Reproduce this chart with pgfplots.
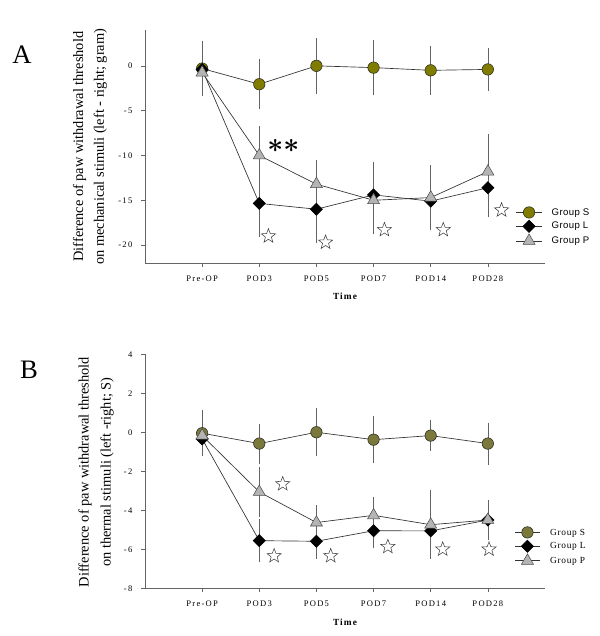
\documentclass[border=0pt]{standalone}
\usepackage{fontspec}
\setmainfont{Liberation Serif}
\newfontfamily\arial{Liberation Sans}
\usepackage{amsmath,bm}
\usepackage{pgfplots}
\usepackage{pgfplotstable}
\pgfplotsset{compat=1.18}

\definecolor{oliveA}{RGB}{128,124,0}
\definecolor{oliveB}{RGB}{122,120,58}
\definecolor{triG}{RGB}{180,180,180}
\definecolor{lineG}{RGB}{50,50,50}
\definecolor{axG}{RGB}{100,100,100}

\newcommand{\ticks}{\fontsize{6.4}{7}\selectfont\addfontfeature{LetterSpace=15}}

% open five-point star used for significance marks
\pgfdeclareplotmark{ostar}{%
  \pgfpathmoveto{\pgfpointpolar{90}{\pgfplotmarksize}}%
  \pgfpathlineto{\pgfpointpolar{126}{0.42\pgfplotmarksize}}%
  \pgfpathlineto{\pgfpointpolar{162}{\pgfplotmarksize}}%
  \pgfpathlineto{\pgfpointpolar{198}{0.42\pgfplotmarksize}}%
  \pgfpathlineto{\pgfpointpolar{234}{\pgfplotmarksize}}%
  \pgfpathlineto{\pgfpointpolar{270}{0.42\pgfplotmarksize}}%
  \pgfpathlineto{\pgfpointpolar{306}{\pgfplotmarksize}}%
  \pgfpathlineto{\pgfpointpolar{342}{0.42\pgfplotmarksize}}%
  \pgfpathlineto{\pgfpointpolar{18}{\pgfplotmarksize}}%
  \pgfpathlineto{\pgfpointpolar{54}{0.42\pgfplotmarksize}}%
  \pgfpathclose\pgfusepathqfillstroke}

% mechanical (gram)
\pgfplotstableread{
x  S     Se    L       Le    P      Pe
0  -0.3  2.7   -0.4    1.0   -0.75  1.5
1  -2.05 2.4   -15.35  3.35  -10.0  2.85
2  0.0   2.7   -16.0   3.4   -13.2  2.3
3  -0.2  2.7   -14.4   3.3   -15.0  3.35
4  -0.5  2.35  -15.1   1.8   -14.7  3.2
5  -0.4  2.0   -13.6   2.9   -11.8  3.8
}\mech

% thermal (s)
\pgfplotstableread{
x  S     Se    L      Le    P      Pe
0  -0.05 1.0   -0.34  0.7   -0.17  0.7
1  -0.58 0.85  -5.56  0.93  -3.06  1.1
2  0.0   1.05  -5.59  0.72  -4.63  0.72
3  -0.38 1.02  -5.05  0.73  -4.26  0.75
4  -0.17 0.62  -5.06  1.0   -4.74  1.58
5  -0.58 0.9   -4.5   0.84  -4.5   0.55
}\therm

\pgfplotsset{
  panel/.style={
    scale only axis, width=300pt,
    axis x line=bottom, axis y line=left,
    axis line style={draw=axG, line width=0.6pt, -},
    tick align=outside, major tick length=3pt,
    tick style={draw=axG, line width=0.5pt},
    xmin=-1, xmax=6, xtick={0,...,5},
    xticklabels={Pre-OP,POD3,POD5,POD7,POD14,POD28},
    xticklabel style={font=\ticks, yshift=-3pt},
    yticklabel style={font=\ticks, xshift=-3pt},
    clip=false, legend cell align=left,
    legend image code/.code={
      \draw[mark repeat=2,mark phase=2,##1] plot coordinates {(0pt,0pt) (9.5pt,0pt) (19pt,0pt)};},
  },
  grp/.style={color=lineG, line width=0.5pt,
    error bars/y dir=both, error bars/y explicit,
    error bars/error bar style={line width=0.5pt, draw=axG},
    error bars/error mark options={mark size=2.6pt, line width=0.5pt, draw=axG}},
  mS/.style={mark=*, mark size=4.3pt, mark options={fill=#1, draw=black!85, line width=0.4pt}},
  mL/.style={mark=square*, mark size=3.2pt, mark options={rotate=45, fill=black, draw=black}},
  mP/.style={mark=triangle*, mark size=5.2pt, mark options={fill=triG, draw=black!70, line width=0.4pt}},
  sig/.style={only marks, mark=ostar, mark size=5.6pt, mark options={fill=white, draw=black!75, line width=0.4pt}, forget plot},
  leg/.style={draw=none, fill=none, anchor=west, row sep=1pt, column sep=6pt, inner sep=0pt,
    nodes={inner sep=1.2pt, text height=5.5pt, text depth=1.5pt}},
}

\begin{document}
\begin{tikzpicture}
\useasboundingbox (0,0) rectangle (450pt,477pt);

\begin{axis}[panel, height=174.75pt, at={(108.75pt,279.75pt)}, anchor=south west,
  ymin=-22, ymax=4, ytick={-20,-15,-10,-5,0}, yticklabels={-20,-15,-10,-5,0},
  legend style={leg, at={(rel axis cs:0.927,0.156)},
    font=\arial\fontsize{7.2}{8}\selectfont\addfontfeature{LetterSpace=4}}]
  \addplot[grp, mS=oliveA] table[x=x, y=S, y error=Se] {\mech};
  \addlegendentry{Group S}
  \addplot[grp, mL] table[x=x, y=L, y error=Le] {\mech};
  \addlegendentry{Group L}
  \addplot[grp, mP] table[x=x, y=P, y error=Pe] {\mech};
  \addlegendentry{Group P}
  \addplot[sig] coordinates {(1.16,-19.0) (2.16,-19.7) (3.19,-18.3) (4.22,-18.3) (5.24,-16.1)};
  \node at (axis cs:1.42,-8.95) {\fontsize{22}{22}\selectfont$\boldsymbol{\ast}\boldsymbol{\ast}$};
\end{axis}

\begin{axis}[panel, height=175.5pt, at={(108.75pt,35.8pt)}, anchor=south west,
  ymin=-8, ymax=4, ytick={-8,-6,...,4}, yticklabels={-8,-6,-4,-2,0,2,4},
  legend style={leg, at={(rel axis cs:0.923,0.178)},
    font=\fontsize{7}{8}\selectfont\addfontfeature{LetterSpace=8}}]
  \addplot[grp, mS=oliveB] table[x=x, y=S, y error=Se] {\therm};
  \addlegendentry{Group S}
  \addplot[grp, mL] table[x=x, y=L, y error=Le] {\therm};
  \addlegendentry{Group L}
  \addplot[grp, mP] table[x=x, y=P, y error=Pe] {\therm};
  \addlegendentry{Group P}
  \addplot[sig] coordinates {(1.41,-2.65) (1.26,-6.34) (2.25,-6.34) (3.25,-5.87) (4.21,-6.0) (5.02,-6.0)};
\end{axis}

\begin{scope}[x=0.75pt, y=0.75pt]
  \node[font=\fontsize{20}{20}\selectfont] at (22,581) {A};
  \node[font=\fontsize{20}{20}\selectfont] at (29,266) {B};
  \node[rotate=90, align=center, font=\fontsize{10.8}{15.5}\selectfont] at (90,489.3)
    {Difference of paw withdrawal threshold\\on mechanical stimuli (left - right; gram)};
  \node[rotate=90, align=center, font=\fontsize{10.8}{16.5}\selectfont] at (96,164)
    {Difference of paw withdrawal threshold\\on thermal stimuli (left -right; S)};
  \node[font=\fontsize{7}{8}\selectfont\bfseries\addfontfeature{LetterSpace=12}] at (345,340) {Time};
  \node[font=\fontsize{7}{8}\selectfont\bfseries\addfontfeature{LetterSpace=12}] at (345,13.3) {Time};
\end{scope}
\end{tikzpicture}
\end{document}
